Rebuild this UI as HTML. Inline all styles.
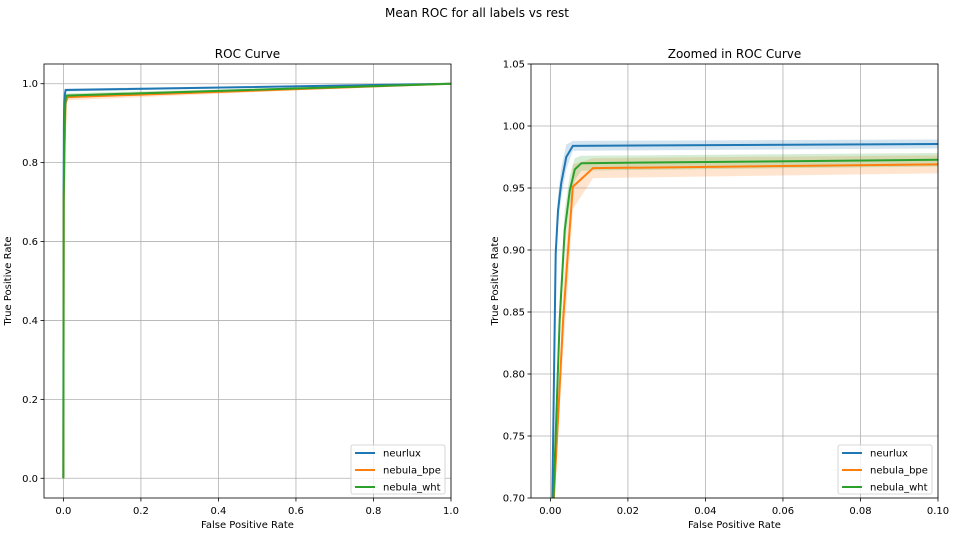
<!DOCTYPE html>
<html><head><meta charset="utf-8"><style>
html,body{margin:0;padding:0;background:#fff;overflow:hidden;width:955px;height:537px;}
svg{display:block;font-family:"DejaVu Sans","Liberation Sans",sans-serif;}
</style></head><body>
<svg id="fig" width="955" height="537"></svg>
<script>
const seriesNames=["neurlux","nebula_bpe","nebula_wht"];
const colors=["#1f77b4","#ff7f0e","#2ca02c"];
const fprNeurlux=[0,0.0005,0.00137,0.00197,0.0028,0.0041,0.0058,1];
const tprNeurlux=[0,0.70,0.897,0.932,0.954,0.975,0.984,1];
const stdNeurlux=[0,0.006,0.01,0.012,0.012,0.01,0.004,0];
const fprBpe=[0,0.0009,0.0033,0.0045,0.0058,0.011,1];
const tprBpe=[0,0.70,0.844,0.897,0.951,0.966,1];
const stdBpe=[0,0.012,0.025,0.025,0.018,0.008,0];
const fprWht=[0,0.0008,0.0024,0.0037,0.005,0.0063,0.008,1];
const tprWht=[0,0.70,0.844,0.916,0.948,0.965,0.970,1];
const stdWht=[0,0.01,0.016,0.016,0.012,0.009,0.006,0];
const leftXTicks=[0,0.2,0.4,0.6,0.8,1.0];
const leftXLabels=["0.0","0.2","0.4","0.6","0.8","1.0"];
const leftYTicks=[0,0.2,0.4,0.6,0.8,1.0];
const leftYLabels=["0.0","0.2","0.4","0.6","0.8","1.0"];
const rightXTicks=[0,0.02,0.04,0.06,0.08,0.10];
const rightXLabels=["0.00","0.02","0.04","0.06","0.08","0.10"];
const rightYTicks=[0.70,0.75,0.80,0.85,0.90,0.95,1.00,1.05];
const rightYLabels=["0.70","0.75","0.80","0.85","0.90","0.95","1.00","1.05"];

const NS="http://www.w3.org/2000/svg";
const svg=document.getElementById('fig');
function mk(tag,attrs,parent,text){const e=document.createElementNS(NS,tag);for(const k in attrs)e.setAttribute(k,attrs[k]);if(text!==undefined)e.textContent=text;(parent||svg).appendChild(e);return e;}

const t=mk('text',{x:477,y:17,'text-anchor':'middle','font-size':12});t.textContent="Mean ROC for all labels vs rest";



const series=[[fprNeurlux,tprNeurlux,stdNeurlux],[fprBpe,tprBpe,stdBpe],[fprWht,tprWht,stdWht]];

function panel(id,L,R,T,B,xmin,xmax,ymin,ymax,xt,xl,yt,yl,title){
  const g=mk('g',{});
  
  
  const sx=v=>L+(v-xmin)/(xmax-xmin)*(R-L);
  const sy=v=>B-(v-ymin)/(ymax-ymin)*(B-T);
  const cid='clip-'+id;
  const cp=mk('clipPath',{id:cid},g);mk('rect',{x:L,y:T,width:R-L,height:B-T},cp);
  xt.forEach((v,i)=>{const x=sx(v);
    const gl=mk('line',{x1:x,x2:x,y1:T,y2:B,stroke:'#b0b0b0','stroke-width':0.8},g);
    
    
    mk('line',{x1:x,x2:x,y1:B,y2:B+3.5,stroke:'#000','stroke-width':0.8},g);
    const tl=mk('text',{x:x,y:B+16,'text-anchor':'middle','font-size':10},g,xl[i]);
    
    
  });
  yt.forEach((v,i)=>{const y=sy(v);
    const gl=mk('line',{x1:L,x2:R,y1:y,y2:y,stroke:'#b0b0b0','stroke-width':0.8},g);
    
    
    mk('line',{x1:L-3.5,x2:L,y1:y,y2:y,stroke:'#000','stroke-width':0.8},g);
    const tl=mk('text',{x:L-6,y:y+3.5,'text-anchor':'end','font-size':10},g,yl[i]);
    
    
  });
  const pg=mk('g',{'clip-path':'url(#'+cid+')'},g);
  series.forEach((s,k)=>{const [fx,ty,sd]=s;
    let up=fx.map((v,i)=>sx(v)+','+sy(Math.min(1,ty[i]+sd[i])));
    let dn=fx.map((v,i)=>sx(v)+','+sy(Math.max(0,ty[i]-sd[i]))).reverse();
    const b=mk('polygon',{points:up.concat(dn).join(' '),fill:colors[k],'fill-opacity':0.2},pg);
    
    
  });
  series.forEach((s,k)=>{const [fx,ty]=s;
    const l=mk('polyline',{points:fx.map((v,i)=>sx(v)+','+sy(ty[i])).join(' '),fill:'none',stroke:colors[k],'stroke-width':2},pg);
    
    
  });
  mk('rect',{x:L,y:T,width:R-L,height:B-T,fill:'none',stroke:'#000','stroke-width':0.8},g);
  const tt=mk('text',{x:(L+R)/2,y:T-6,'text-anchor':'middle','font-size':12},g,title);
  
  
  const xa=mk('text',{x:(L+R)/2,y:B+30,'text-anchor':'middle','font-size':10},g,'False Positive Rate');
  
  
  const yx=L-33,yy=(T+B)/2;
  const ya=mk('text',{x:yx,y:yy,'text-anchor':'middle','font-size':10,transform:`rotate(-90 ${yx} ${yy})`},g,'True Positive Rate');
  
  
  const lg=mk('g',{},g);
  
  
  const lx=R-100,ly=B-53;
  mk('rect',{x:lx,y:ly,width:94,height:49,rx:2,fill:'#fff','fill-opacity':0.8,stroke:'#ccc','stroke-width':0.8},lg);
  seriesNames.forEach((n,k)=>{const y=ly+8+k*17;
    const e=mk('g',{},lg);
    
    
    mk('line',{x1:lx+4,x2:lx+24,y1:y,y2:y,stroke:colors[k],'stroke-width':2},e);
    mk('text',{x:lx+32,y:y+3.5,'font-size':10},e,n);
  });
}
panel('left-roc-panel',44,451,64,498,-0.05,1.0,-0.05,1.05,leftXTicks,leftXLabels,leftYTicks,leftYLabels,'ROC Curve');
panel('right-zoomed-panel',531,938,64,498,-0.005,0.1,0.70,1.05,rightXTicks,rightXLabels,rightYTicks,rightYLabels,'Zoomed in ROC Curve');
</script>
</body></html>
